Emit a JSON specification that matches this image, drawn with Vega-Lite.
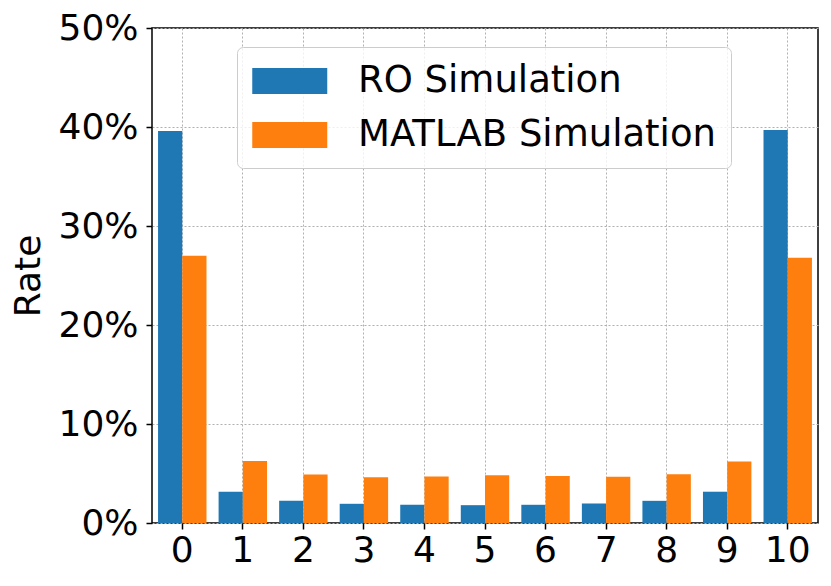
{
  "$schema": "https://vega.github.io/schema/vega-lite/v6.json",
  "description": "RO vs MATLAB simulation rate per count",
  "autosize": {"type": "none"},
  "padding": {"left": 152, "top": 28, "right": 13, "bottom": 63},
  "width": 666,
  "height": 495,
  "data": {
    "values": [
      {"bin": 0, "series": "RO Simulation", "rate": 0.396},
      {"bin": 1, "series": "RO Simulation", "rate": 0.0316},
      {"bin": 2, "series": "RO Simulation", "rate": 0.0224},
      {"bin": 3, "series": "RO Simulation", "rate": 0.0194},
      {"bin": 4, "series": "RO Simulation", "rate": 0.0184},
      {"bin": 5, "series": "RO Simulation", "rate": 0.018},
      {"bin": 6, "series": "RO Simulation", "rate": 0.0184},
      {"bin": 7, "series": "RO Simulation", "rate": 0.0197},
      {"bin": 8, "series": "RO Simulation", "rate": 0.0224},
      {"bin": 9, "series": "RO Simulation", "rate": 0.0316},
      {"bin": 10, "series": "RO Simulation", "rate": 0.397},
      {"bin": 0, "series": "MATLAB Simulation", "rate": 0.27},
      {"bin": 1, "series": "MATLAB Simulation", "rate": 0.0626},
      {"bin": 2, "series": "MATLAB Simulation", "rate": 0.049},
      {"bin": 3, "series": "MATLAB Simulation", "rate": 0.0462},
      {"bin": 4, "series": "MATLAB Simulation", "rate": 0.0469},
      {"bin": 5, "series": "MATLAB Simulation", "rate": 0.0483},
      {"bin": 6, "series": "MATLAB Simulation", "rate": 0.0476},
      {"bin": 7, "series": "MATLAB Simulation", "rate": 0.0466},
      {"bin": 8, "series": "MATLAB Simulation", "rate": 0.0493},
      {"bin": 9, "series": "MATLAB Simulation", "rate": 0.0622},
      {"bin": 10, "series": "MATLAB Simulation", "rate": 0.268}
    ]
  },
  "mark": {"type": "bar"},
  "encoding": {
    "x": {
      "field": "bin",
      "type": "ordinal",
      "title": null,
      "scale": {"paddingInner": 0.2, "paddingOuter": 0.1},
      "axis": {"labelAngle": 0, "grid": true, "bandPosition": 0.5, "labelPadding": 4}
    },
    "xOffset": {
      "field": "series",
      "type": "nominal",
      "scale": {"domain": ["RO Simulation", "MATLAB Simulation"]}
    },
    "y": {
      "field": "rate",
      "type": "quantitative",
      "title": "Rate",
      "scale": {"domain": [0, 0.5], "nice": false},
      "axis": {"values": [0, 0.1, 0.2, 0.3, 0.4, 0.5], "format": ".0%", "titlePadding": 10}
    },
    "color": {
      "field": "series",
      "type": "nominal",
      "scale": {"domain": ["RO Simulation", "MATLAB Simulation"], "range": ["#1f77b4", "#ff7f0e"]},
      "legend": {
        "title": null,
        "orient": "none",
        "legendX": 85,
        "legendY": 19,
        "symbolType": "M-1,-0.7H3V0.7H-1Z",
        "symbolSize": 1406,
        "symbolStrokeWidth": 0,
        "symbolOpacity": 1,
        "labelOffset": 68,
        "rowPadding": 17,
        "padding": 15,
        "strokeColor": "#cccccc",
        "cornerRadius": 6,
        "fillColor": "rgba(255,255,255,0.8)"
      }
    }
  },
  "config": {
    "font": "DejaVu Sans",
    "view": {"stroke": "black", "strokeWidth": 1.5},
    "axis": {
      "domain": false,
      "labelFont": "DejaVu Sans",
      "labelFontSize": 36,
      "labelColor": "black",
      "titleFont": "DejaVu Sans",
      "titleFontSize": 36,
      "titleFontWeight": "normal",
      "titleColor": "black",
      "tickColor": "black",
      "tickSize": 6,
      "tickWidth": 1.5,
      "labelPadding": 8,
      "gridColor": "#b0b0b0",
      "gridDash": [2, 2],
      "gridWidth": 1
    },
    "legend": {
      "labelFont": "DejaVu Sans",
      "labelFontSize": 37,
      "labelColor": "black",
      "labelLimit": 500
    }
  }
}
